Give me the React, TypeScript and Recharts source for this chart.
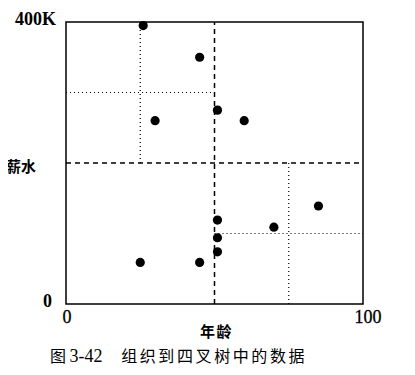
import React from 'react';
import {
  ScatterChart, Scatter, XAxis, YAxis, ReferenceLine, ReferenceArea
} from 'recharts';

// 年龄 (age) and 薪水 (salary, K) per data point
const ages = [26, 45, 51, 30, 60, 85, 51, 70, 51, 51, 25, 45];
const salaries = [395, 350, 275, 260, 260, 139, 119, 109, 94, 74, 59, 59];

const xTicks = [0, 100];
const yTicks = [0, 400];
const yTickLabels = ['0', '400K'];

// quadtree splits
const rootSplit = { age: 50, salary: 200 };
const topLeftSplit = { age: 25, salary: 300 };
const bottomRightSplit = { age: 75, salary: 100 };

const points = ages.map((age, i) => ({ age, salary: salaries[i] }));

const serif = '"Liberation Serif", "DejaVu Serif", serif';
const cjk = '"Noto Sans CJK SC", sans-serif';

const Dot = (props: any) => <circle cx={props.cx} cy={props.cy} r={4.6} fill="#000" />;

const XTick = (props: any) => {
  const { x, y, payload } = props;
  const shift = payload.value === 100 ? 5 : 1;
  return (
    <text x={x + shift} y={y + 17} textAnchor="middle" fill="#000" fontSize={18} fontFamily={serif} stroke="#000" strokeWidth={0.3}>
      {payload.value}
    </text>
  );
};

const YTick = (props: any) => {
  const { x, y, payload } = props;
  const label = yTickLabels[yTicks.indexOf(payload.value)];
  const shift = payload.value === 0 ? -12 : -8;
  return (
    <text x={x + shift} y={y + 3} textAnchor="end" fill="#000" fontSize={18} fontFamily={serif} fontWeight="bold">
      {label}
    </text>
  );
};

export default function App() {
  return (
    <div style={{ margin: -8, position: 'relative', width: 415, height: 375, background: '#fff' }}>
      <ScatterChart width={415} height={375} margin={{ top: 22, right: 52, bottom: 41, left: 10 }}>
        <XAxis
          type="number" dataKey="age" domain={[0, 100]} ticks={xTicks}
          axisLine={false} tickLine={false} tickSize={0}
          height={30} tick={<XTick />}
        />
        <YAxis
          type="number" dataKey="salary" domain={[0, 400]} ticks={yTicks}
          axisLine={false} tickLine={false} tickSize={0}
          width={56} tick={<YTick />}
        />
        <ReferenceArea x1={0} x2={100} y1={0} y2={400} fill="none" fillOpacity={0} stroke="#000" strokeWidth={1.5} />
        <ReferenceLine x={rootSplit.age} stroke="#000" strokeWidth={1.5} strokeDasharray="5 4" />
        <ReferenceLine y={rootSplit.salary} stroke="#000" strokeWidth={1.5} strokeDasharray="5 4" />
        <ReferenceLine
          segment={[{ x: topLeftSplit.age, y: rootSplit.salary }, { x: topLeftSplit.age, y: 400 }]}
          stroke="#000" strokeWidth={1.2} strokeDasharray="1 3"
        />
        <ReferenceLine
          segment={[{ x: 0, y: topLeftSplit.salary }, { x: rootSplit.age, y: topLeftSplit.salary }]}
          stroke="#000" strokeWidth={1.2} strokeDasharray="1 3"
        />
        <ReferenceLine
          segment={[{ x: bottomRightSplit.age, y: 0 }, { x: bottomRightSplit.age, y: rootSplit.salary }]}
          stroke="#000" strokeWidth={1.2} strokeDasharray="1 3"
        />
        <ReferenceLine
          segment={[{ x: rootSplit.age, y: bottomRightSplit.salary }, { x: 100, y: bottomRightSplit.salary }]}
          stroke="#000" strokeWidth={1.2} strokeDasharray="1 3"
        />
        <Scatter data={points} shape={Dot} isAnimationActive={false} />
      </ScatterChart>
      <div style={{ position: 'absolute', left: 6, top: 156, fontFamily: cjk, fontWeight: 'bold', fontSize: 15, lineHeight: '20px', color: '#000' }}>
        薪水
      </div>
      <div style={{ position: 'absolute', left: 200, top: 321, fontFamily: cjk, fontWeight: 'bold', fontSize: 15, letterSpacing: 1.5, lineHeight: '20px', color: '#000' }}>
        年龄
      </div>
      <div style={{ position: 'absolute', left: 50, top: 344, fontSize: 16, lineHeight: '22px', color: '#000', whiteSpace: 'pre' }}>
        <span style={{ fontFamily: cjk }}>图 </span>
        <span style={{ fontFamily: serif, fontSize: 18 }}>3-42</span>
        <span style={{ fontFamily: cjk, letterSpacing: 2.6 }}>{'   '}组织到四叉树中的数据</span>
      </div>
    </div>
  );
}
